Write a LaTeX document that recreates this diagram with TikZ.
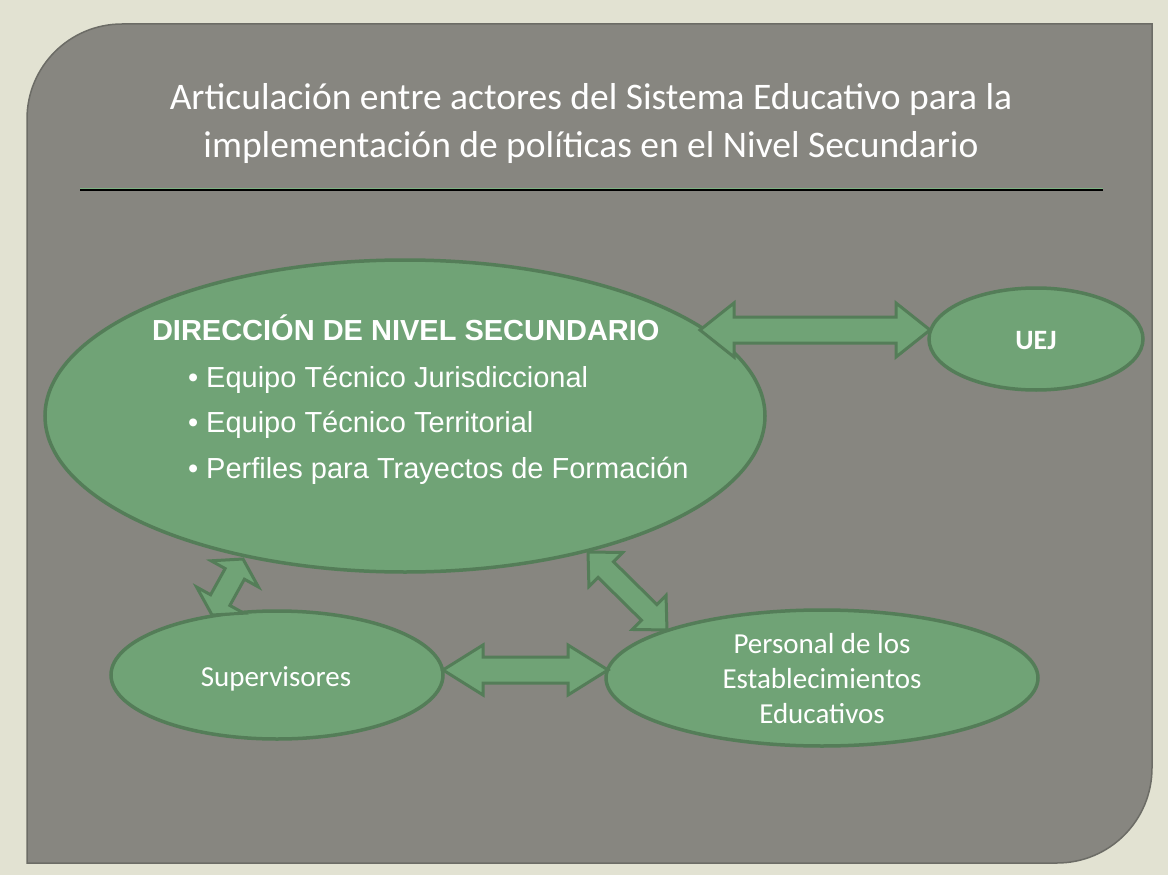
\documentclass[tikz,border=0pt]{standalone}
\usepackage{fontspec}
\setmainfont{Liberation Sans}
\newfontfamily\calib{Carlito}
\usetikzlibrary{calc,shapes.geometric}
\definecolor{bgbeige}{HTML}{E2E2D2}
\definecolor{panelgray}{HTML}{878680}
\definecolor{paneledge}{HTML}{6C6C66}
\definecolor{leaf}{HTML}{70A376}
\definecolor{leafdark}{HTML}{547D58}
\definecolor{rulegreen}{HTML}{7DB283}
\tikzset{
  ell/.style={ellipse, draw=leafdark, fill=leaf, line width=3.5pt, inner sep=0pt, outer sep=0pt},
  arrowbox/.style={draw=leafdark, fill=leaf, line width=3pt, line join=miter},
  wtext/.style={text=white, inner sep=0pt, outer sep=0pt},
  titletext/.style={wtext, font=\calib\fontsize{37.5}{44}\selectfont, anchor=base},
  bodytext/.style={wtext, font=\fontsize{29}{35}\selectfont, anchor=base west},
  smalltext/.style={wtext, font=\calib\fontsize{29}{35}\selectfont},
}
\newcommand\dblarrow[5]{%
  \path let \p1=(#1), \p2=(#2) in \pgfextra{%
    \pgfmathsetmacro\arrAng{atan2(\y2-\y1,\x2-\x1)}\xdef\arrAngG{\arrAng}%
    \pgfmathsetmacro\arrLen{veclen(\x2-\x1,\y2-\y1)}\xdef\arrLenG{\arrLen}};
  \draw[arrowbox, shift={(#1)}, rotate=\arrAngG]
    (0,0) -- (#5,#4) -- (#5,#3) -- ({\arrLenG-#5},#3) -- ({\arrLenG-#5},#4) -- (\arrLenG,0)
    -- ({\arrLenG-#5},-#4) -- ({\arrLenG-#5},-#3) -- (#5,-#3) -- (#5,-#4) -- cycle;
}
\begin{document}
\begin{tikzpicture}[x=1pt,y=-1pt]
\useasboundingbox (0,0) rectangle (1168,875);
\fill[bgbeige] (0,0) rectangle (1168,875);
% panel
\draw[fill=panelgray, draw=paneledge, line width=1.5pt]
  (27,863) -- (27,119) .. controls (27,66.5) and (69.5,24) .. (122,24)
  -- (1152,24) -- (1152,768) .. controls (1152,820.5) and (1109.5,863) .. (1057,863) -- cycle;
% title
\node[titletext] (title1) at (591,110) {Articulación entre actores del Sistema Educativo para la};
\node[titletext] (title2) at (591,157) {implementación de políticas en el Nivel Secundario};
\coordinate (ruleL) at (80,190);
\coordinate (ruleR) at (1103,190);
\draw[black, line width=2.5pt] (ruleL) -- (ruleR);
\draw[rulegreen, line width=1pt] ([yshift=1.8pt]ruleL) -- ([yshift=1.8pt]ruleR);
% ellipses
\node[ell, minimum width=720, minimum height=312] (big) at (405,416) {};
\node[ell, minimum width=214, minimum height=102] (uej) at (1036,339) {};
\node[ell, minimum width=332, minimum height=128] (sup) at (277,675) {};
\node[ell, minimum width=432, minimum height=136] (pers) at (822,678) {};
% texts
\node[bodytext, font=\bfseries\fontsize{29}{35}\selectfont] (head) at (152,340) {DIRECCIÓN DE NIVEL SECUNDARIO};
\node[bodytext] (b1) at (188,387) {• Equipo Técnico Jurisdiccional};
\node[bodytext] (b2) at (188,432.5) {• Equipo Técnico Territorial};
\node[bodytext] (b3) at (188,478) {• Perfiles para Trayectos de Formación};
\node[wtext, font=\calib\bfseries\fontsize{28}{32}\selectfont, anchor=base] (uejt) at (1036,349) {UEJ};
\node[smalltext, anchor=base] (supt) at (276,686) {Supervisores};
\node[smalltext, align=center] (perst) at (822,679) {Personal de los\\Establecimientos\\Educativos};
% arrow ends (offsets from ellipse centres)
\coordinate (bU) at ($(big.center)+(295,-86)$);
\coordinate (uB) at ($(uej.center)+(-106,-9)$);
\coordinate (bP) at ($(big.center)+(183,136)$);
\coordinate (pB) at ($(pers.center)+(-155,-48)$);
\coordinate (bS) at ($(big.center)+(-162,143)$);
\coordinate (sB) at ($(sup.center)+(-65,-60)$);
\coordinate (sP) at ($(sup.center)+(166,-5)$);
\coordinate (pS) at ($(pers.center)+(-214,-8)$);
% arrows
\dblarrow{bU}{uB}{13}{27}{34}
\dblarrow{sP}{pS}{13}{25}{40}
\dblarrow{bP}{pB}{11}{24}{25}
\dblarrow{bS}{sB}{11}{27}{17}
\end{tikzpicture}
\end{document}
